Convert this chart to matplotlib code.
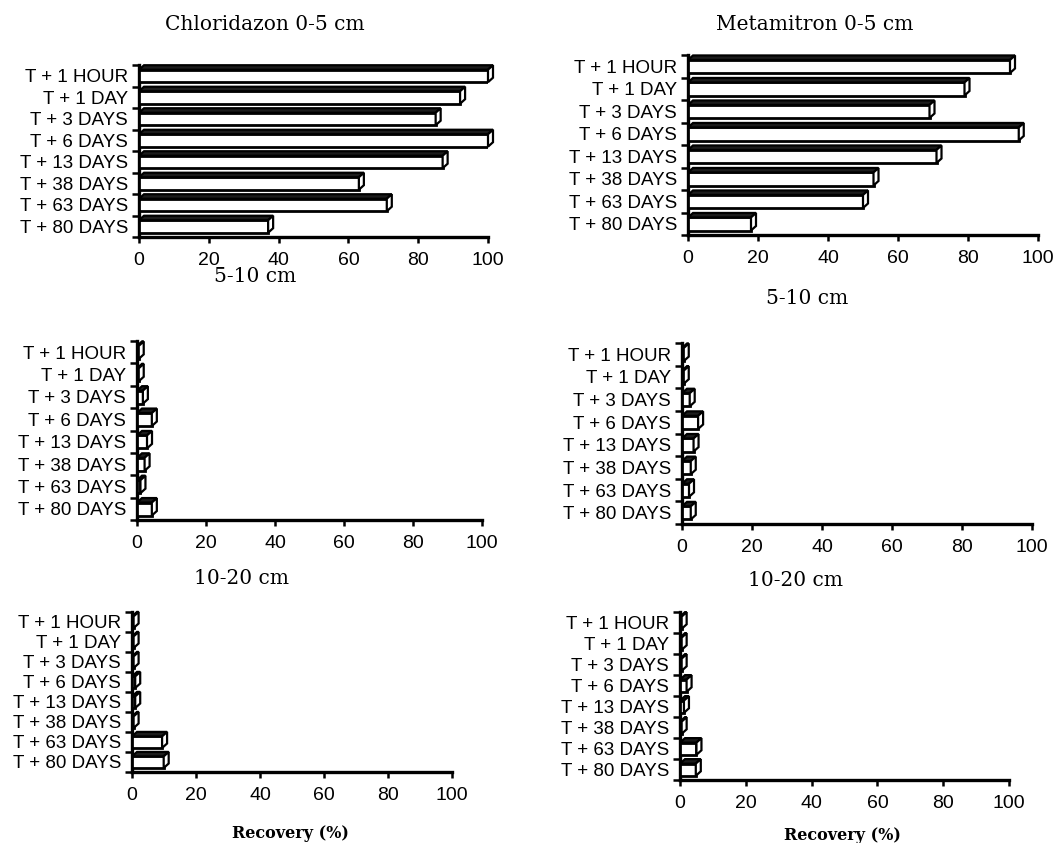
import matplotlib
matplotlib.use("Agg")
import matplotlib.pyplot as plt
from matplotlib.patches import Polygon
import numpy as np

categories = ["T + 1 HOUR", "T + 1 DAY", "T + 3 DAYS", "T + 6 DAYS",
              "T + 13 DAYS", "T + 38 DAYS", "T + 63 DAYS", "T + 80 DAYS"]

chlor_0_5 = [100, 92, 85, 100, 87, 63, 71, 37]
metam_0_5 = [92, 79, 69, 94.5, 71, 53, 50, 18]
chlor_5_10 = [0.5, 0.5, 1.7, 4.3, 2.9, 2.2, 1.0, 4.3]
metam_5_10 = [0.5, 0.5, 2.2, 4.6, 3.3, 2.5, 2.0, 2.5]
chlor_10_20 = [0.5, 0.5, 0.5, 1.0, 1.0, 0.5, 9.4, 9.9]
metam_10_20 = [0.5, 0.5, 0.5, 2.0, 1.2, 0.5, 5.0, 4.8]

x_ticks = [0, 20, 40, 60, 80, 100]
x_ticklabels = ["0", "20", "40", "60", "80", "100"]

titles = ["Chloridazon 0-5 cm", "Metamitron 0-5 cm", "5-10 cm", "5-10 cm",
          "10-20 cm", "10-20 cm"]
xlabel = "Recovery (%)"

W, H = 1054, 843
fig = plt.figure(figsize=(W / 100, H / 100), dpi=100)

# panel geometry in pixels: left, right, top, bottom
geom = [
    (139, 488, 65, 237),
    (688, 1038, 55, 235),
    (137, 482, 341, 520),
    (682, 1032, 343, 524),
    (132, 452, 612, 772),
    (680, 1009, 612, 780),
]
# title centers (x, y) in pixels
title_pos = [(265, 25), (815, 25), (255, 277), (807, 298), (242, 578), (795, 580)]
xlabel_pos = {4: (290, 833), 5: (842, 835)}

data = [chlor_0_5, metam_0_5, chlor_5_10, metam_5_10, chlor_10_20, metam_10_20]

sans = ["Liberation Sans", "DejaVu Sans"]
serif = ["DejaVu Serif"]

n = len(categories)
for k, (vals, (l, r, t, b)) in enumerate(zip(data, geom)):
    ax = fig.add_axes([l / W, 1 - b / H, (r - l) / W, (b - t) / H])
    ax.set_xlim(0, 100)
    ax.set_ylim(0, n)
    ppx = (r - l) / 100.0
    ppy = (b - t) / n
    dx = 5.0 / ppx
    dy = 4.5 / ppy
    h = 0.58
    centers = [n - i - 1 + 0.2 + h / 2 for i in range(n)]
    ax.barh(centers, vals, height=h, left=0, color="white",
            edgecolor="black", linewidth=2.0, zorder=3)
    for yc, v in zip(centers, vals):
        yt = yc + h / 2
        yb = yc - h / 2
        top = Polygon([(0, yt), (v, yt), (v + dx, yt + dy), (dx, yt + dy)],
                      closed=True, facecolor="#1c1c1c", edgecolor="black",
                      linewidth=1.6, zorder=4)
        side = Polygon([(v, yb), (v + dx, yb + dy), (v + dx, yt + dy), (v, yt)],
                       closed=True, facecolor="white", edgecolor="black",
                       linewidth=1.6, zorder=4)
        ax.add_patch(top)
        ax.add_patch(side)
        for p in (top, side):
            p.set_clip_on(False)

    for s in ("top", "right"):
        ax.spines[s].set_visible(False)
    ax.spines["left"].set_linewidth(2.4)
    ax.spines["bottom"].set_linewidth(2.4)
    ax.set_yticks(np.arange(0, n + 1))
    ax.set_yticklabels([])
    ax.set_yticks([n - i - 0.5 for i in range(n)], minor=True)
    ax.set_yticklabels(categories, minor=True, fontsize=13.5, family=sans)
    ax.tick_params(axis="y", which="major", direction="out", length=5, width=1.8)
    ax.tick_params(axis="y", which="minor", length=0, pad=8)
    ax.set_xticks(x_ticks)
    ax.set_xticklabels(x_ticklabels, fontsize=14, family=sans)
    ax.tick_params(axis="x", direction="out", length=4, width=1.8, pad=7)

    tx, ty = title_pos[k]
    fig.text(tx / W, 1 - ty / H, titles[k], ha="center", va="center",
             fontsize=14.5, family=serif)
    if k in xlabel_pos:
        lx, ly = xlabel_pos[k]
        fig.text(lx / W, 1 - ly / H, xlabel, ha="center", va="center",
                 fontsize=11.5, family=serif, fontweight="bold")

fig.savefig("out.png", dpi=100)
